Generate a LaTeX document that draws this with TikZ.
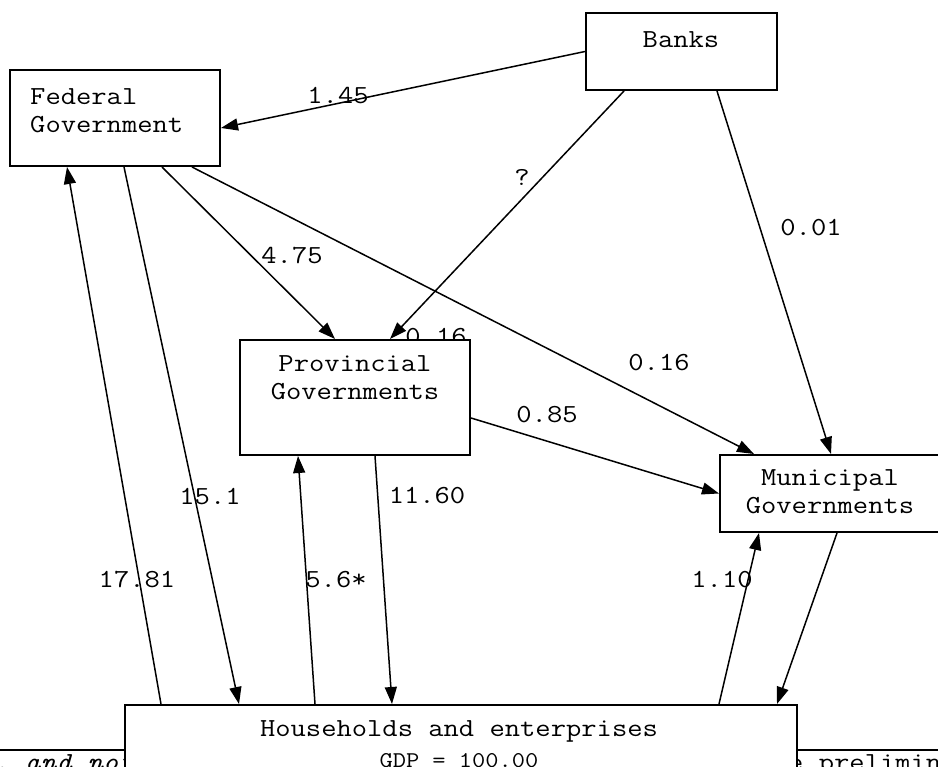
\documentclass[tikz,border=0pt]{standalone}
\usepackage{fontspec}
\setmainfont{Latin Modern Mono}[FakeStretch=1.143, ItalicFeatures={FakeStretch=1.143}]
\usetikzlibrary{arrows.meta,positioning}

\begin{document}
\begin{tikzpicture}[
    x = 1pt, y = 1pt,
    > = {Triangle[length=17pt,width=12pt]}, % filled arrow head
    flow/.style = {->, line width=1.5pt},
    box/.style = {draw, fill=white, line width=2pt, inner sep=0pt},
    txt/.style = {font=\fontsize{26}{28}\selectfont, inner sep=0pt, align=center},
    val/.style = {font=\fontsize{26}{28}\selectfont, inner sep=0pt}
    ]
    \useasboundingbox (0,0) rectangle (938,-767);
    \clip (0,0) rectangle (938,-767);

    % note frame behind the households box
    \draw[line width=1.5pt] (-10,-750) -- (950,-750);
    \node[val, anchor=base west] (notel) at (-22,-770) {\itshape y, and not};
    \node[val, anchor=base west] (noter) at (788,-770) {e preliminary};

    % label hidden half behind the provincial box
    \node[val] (v016b) at (436,-337) {0.16};

    % boxes
    \node[box, minimum width=191pt, minimum height=77pt] (banks) at (681.5,-51.5) {};
    \node[box, minimum width=210pt, minimum height=96pt] (fed) at (115,-118) {};
    \node[box, minimum width=230pt, minimum height=115pt] (prov) at (355,-397.5) {};
    \node[box, minimum width=220pt, minimum height=77pt] (muni) at (830,-493.5) {};
    \node[box, minimum width=672pt, minimum height=90pt] (hh) at (461,-750) {};

    % box texts
    \node[txt] (bankst) at (681,-40) {Banks};
    \node[txt, align=left, anchor=west] (fedt) at (30,-111) {Federal\\Government};
    \node[txt] (provt) at (355,-377.5) {Provincial\\Governments};
    \node[txt] (munit) at (830,-491.5) {Municipal\\Governments};
    \node[txt, anchor=base] (hht) at (459,-767)
        {Households and enterprises\\[3pt]{\fontsize{22.5}{24}\selectfont GDP = 100.00}};

    % flows
    \draw[flow] (banks.west) -- ([yshift=-10pt]fed.east);
    \draw[flow] ([xshift=39pt]banks.south west) -- ([xshift=35pt]prov.north);
    \draw[flow] ([xshift=132pt]banks.south west) -- ([xshift=112pt]muni.north west);
    \draw[flow] ([xshift=153pt]fed.south west) -- ([xshift=-20pt]prov.north);
    \draw[flow] ([xshift=183pt]fed.south west) -- ([xshift=35pt]muni.north west);
    \draw[flow] ([xshift=115pt]fed.south west) -- ([xshift=115pt]hh.north west);
    \draw[flow] ([xshift=37pt]hh.north west) -- ([xshift=58pt]fed.south west);
    \draw[flow] ([yshift=-20.5pt]prov.east) -- (muni.west);
    \draw[flow] ([xshift=20pt]prov.south) -- ([xshift=268pt]hh.north west);
    \draw[flow] ([xshift=191pt]hh.north west) -- ([xshift=-57pt]prov.south);
    \draw[flow] ([xshift=595pt]hh.north west) -- ([xshift=40pt]muni.south west);
    \draw[flow] ([xshift=118pt]muni.south west) -- ([xshift=653pt]hh.north west);

    % flow values
    \node[val] (v145) at (338,-96) {1.45};
    \node[val] (vq) at (522,-177) {?};
    \node[val] (v001) at (811,-228) {0.01};
    \node[val] (v475) at (292,-256) {4.75};
    \node[val] (v016) at (659,-363) {0.16};
    \node[val] (v085) at (547,-415) {0.85};
    \node[val] (v151) at (210,-497) {15.1};
    \node[val] (v1160) at (427,-496) {11.60};
    \node[val] (v1781) at (137,-580) {17.81};
    \node[val] (v56) at (336,-580) {5.6*};
    \node[val] (v110) at (722,-580) {1.10};
\end{tikzpicture}
\end{document}
